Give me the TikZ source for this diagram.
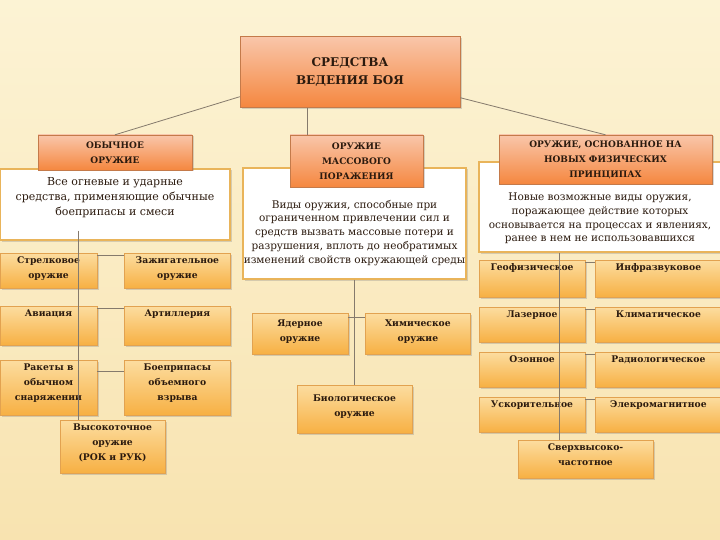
\documentclass[tikz,border=0pt]{standalone}
\usepackage{fontspec}
\setmainfont{DejaVu Serif}
\usetikzlibrary{positioning,shadows}
\definecolor{paper}{HTML}{FCF3D4}
\definecolor{paperlow}{HTML}{F8E3B0}
\definecolor{ink}{HTML}{2B1A0E}
\definecolor{headtop}{HTML}{F9C6AA}
\definecolor{headbot}{HTML}{F5873F}
\definecolor{headline}{HTML}{C47A4A}
\definecolor{celltop}{HTML}{FCDDA0}
\definecolor{cellbot}{HTML}{F7B043}
\definecolor{cellline}{HTML}{E2A250}
\definecolor{noteline}{HTML}{E9B45A}
\definecolor{linkc}{HTML}{857A6C}

\begin{document}
\begin{tikzpicture}[
x=1pt,y=-1pt,
head/.style={
  draw=headline,
  top color=headtop,
  bottom color=headbot,
  drop shadow={shadow xshift=1.5pt,shadow yshift=-1.5pt,opacity=.3},
  text=ink,
  align=center,
  inner sep=0pt,
  font=\bfseries\fontsize{9}{15}\selectfont
},
note/.style={
  draw=noteline,
  line width=1.3pt,
  fill=white,
  drop shadow={shadow xshift=1.5pt,shadow yshift=-1.5pt,opacity=.3},
  inner sep=0pt
},
cell/.style={
  draw=cellline,
  top color=celltop,
  bottom color=cellbot,
  drop shadow={shadow xshift=1.5pt,shadow yshift=-1.5pt,opacity=.3},
  inner sep=0pt
},
txt/.style={
  anchor=north,
  text=ink,
  align=center,
  font=\bfseries\fontsize{9.2}{15}\selectfont
},
desc/.style={
  anchor=north,
  text=ink,
  align=center,
  font=\fontsize{10.5}{13.8}\selectfont
},
link/.style={draw=linkc,line width=0.8pt},
node distance=27pt
]
\useasboundingbox (0,0) rectangle (720,540);
\shade[top color=paper,bottom color=paperlow] (0,0) rectangle (720,540);

\node[head,minimum width=220,minimum height=71,font=\bfseries\fontsize{12}{18}\selectfont] at (350,72) 
  (root) {СРЕДСТВА\\ВЕДЕНИЯ БОЯ};

\node[note,minimum width=230,minimum height=71,
  label={[desc,yshift=-6pt,font=\fontsize{11}{15}\selectfont]north:{Все огневые и ударные\\средства, применяющие обычные\\боеприпасы и смеси}}] at (115,204.5) 
  (convtxt) {};
\node[head,minimum width=154,minimum height=35] at (115,152.5) 
  (conv) {ОБЫЧНОЕ\\ОРУЖИЕ};

\node[note,minimum width=223,minimum height=111,
  label={[desc,yshift=-29pt]north:{Виды оружия, способные при\\ограниченном привлечении сил и\\средств вызвать массовые потери и\\разрушения, вплоть до необратимых\\изменений свойств окружающей среды}}] at (354.5,223.5) 
  (masstxt) {};
\node[head,minimum width=133,minimum height=52] at (356.5,161) 
  (mass) {ОРУЖИЕ\\МАССОВОГО\\ПОРАЖЕНИЯ};

\node[note,minimum width=242,minimum height=90,
  label={[desc,yshift=-28pt]north:{Новые возможные виды оружия,\\поражающее действие которых\\основывается на процессах и явлениях,\\ранее в нем не использовавшихся}}] at (600,207) 
  (newptxt) {};
\node[head,minimum width=213,minimum height=49] at (605.5,159.5) 
  (newp) {ОРУЖИЕ, ОСНОВАННОЕ НА\\НОВЫХ ФИЗИЧЕСКИХ\\ПРИНЦИПАХ};

\node[cell,minimum width=97,minimum height=35,label={[txt]north:{Стрелковое\\оружие}}] at (48.5,270.5) 
  (rifle) {};
\node[cell,minimum width=106,minimum height=35,label={[txt]north:{Зажигательное\\оружие}},right=of rifle] 
  (incend) {};
\node[cell,minimum width=97,minimum height=39,label={[txt]north:{Авиация}}] at (48.5,325.5) 
  (avia) {};
\node[cell,minimum width=106,minimum height=39,label={[txt]north:{Артиллерия}},right=of avia] 
  (artil) {};
\node[cell,minimum width=97,minimum height=55,label={[txt]north:{Ракеты в\\обычном\\снаряжении}}] at (48.5,387.5) 
  (rocket) {};
\node[cell,minimum width=106,minimum height=55,label={[txt]north:{Боеприпасы\\объемного\\взрыва}},right=of rocket] 
  (vacuum) {};
\node[cell,minimum width=105,minimum height=53,label={[txt]north:{Высокоточное\\оружие\\(РОК и РУК)}}] at (112.5,446.5) 
  (precise) {};

\node[cell,minimum width=96,minimum height=41,label={[txt,yshift=-3pt]north:{Ядерное\\оружие}}] at (300,333.5) 
  (nuclear) {};
\node[cell,minimum width=105,minimum height=41,label={[txt,yshift=-3pt]north:{Химическое\\оружие}},right=17pt of nuclear] 
  (chem) {};
\node[cell,minimum width=115,minimum height=48,label={[txt,yshift=-6pt]north:{Биологическое\\оружие}}] at (354.5,409) 
  (bio) {};

\node[cell,minimum width=106,minimum height=37,label={[txt]north:{Геофизическое}}] at (532,278.5) 
  (geo) {};
\node[cell,minimum width=126,minimum height=37,label={[txt]north:{Инфразвуковое}},right=10pt of geo] 
  (infra) {};
\node[cell,minimum width=106,minimum height=35,label={[txt]north:{Лазерное}}] at (532,324.5) 
  (laser) {};
\node[cell,minimum width=126,minimum height=35,label={[txt]north:{Климатическое}},right=10pt of laser] 
  (climate) {};
\node[cell,minimum width=106,minimum height=35,label={[txt]north:{Озонное}}] at (532,369.5) 
  (ozone) {};
\node[cell,minimum width=126,minimum height=35,label={[txt]north:{Радиологическое}},right=10pt of ozone] 
  (radio) {};
\node[cell,minimum width=106,minimum height=35,label={[txt]north:{Ускорительное}}] at (532,414.5) 
  (accel) {};
\node[cell,minimum width=126,minimum height=35,label={[txt]north:{Элекромагнитное}},right=10pt of accel] 
  (emag) {};
\node[cell,minimum width=135,minimum height=38,label={[txt]north:{Сверхвысоко-\\частотное}}] at (585.5,459) 
  (uhf) {};

\draw[link] ([yshift=11pt]root.south west) -- (conv.north);
\draw[link] ([xshift=-43pt]root.south) coordinate (r1) -- (r1 |- mass.north);
\draw[link] ([yshift=10pt]root.south east) -- (newp.north);

\draw[link] ([xshift=-37pt,yshift=10pt]convtxt.south) coordinate (c1) -- (c1 |- precise.north);
\draw[link] ([yshift=-3pt]rifle.north east) -- ([yshift=-3pt]incend.north west);
\draw[link] ([yshift=-3pt]avia.north east) -- ([yshift=-3pt]artil.north west);
\draw[link] ([yshift=-12pt]rocket.north east) -- ([yshift=-12pt]vacuum.north west);

\draw[link] (masstxt.south) -- (bio.north);
\draw[link] ([yshift=-5pt]nuclear.north east) -- ([yshift=-5pt]chem.north west);

\draw[link] ([xshift=-41pt]newptxt.south) coordinate (n1) -- (n1 |- uhf.north);
\draw[link] ([yshift=-3pt]geo.north east) -- ([yshift=-3pt]infra.north west);
\draw[link] ([yshift=-3pt]laser.north east) -- ([yshift=-3pt]climate.north west);
\draw[link] ([yshift=-3pt]ozone.north east) -- ([yshift=-3pt]radio.north west);
\draw[link] ([yshift=-3pt]accel.north east) -- ([yshift=-3pt]emag.north west);
\end{tikzpicture}
\end{document}
